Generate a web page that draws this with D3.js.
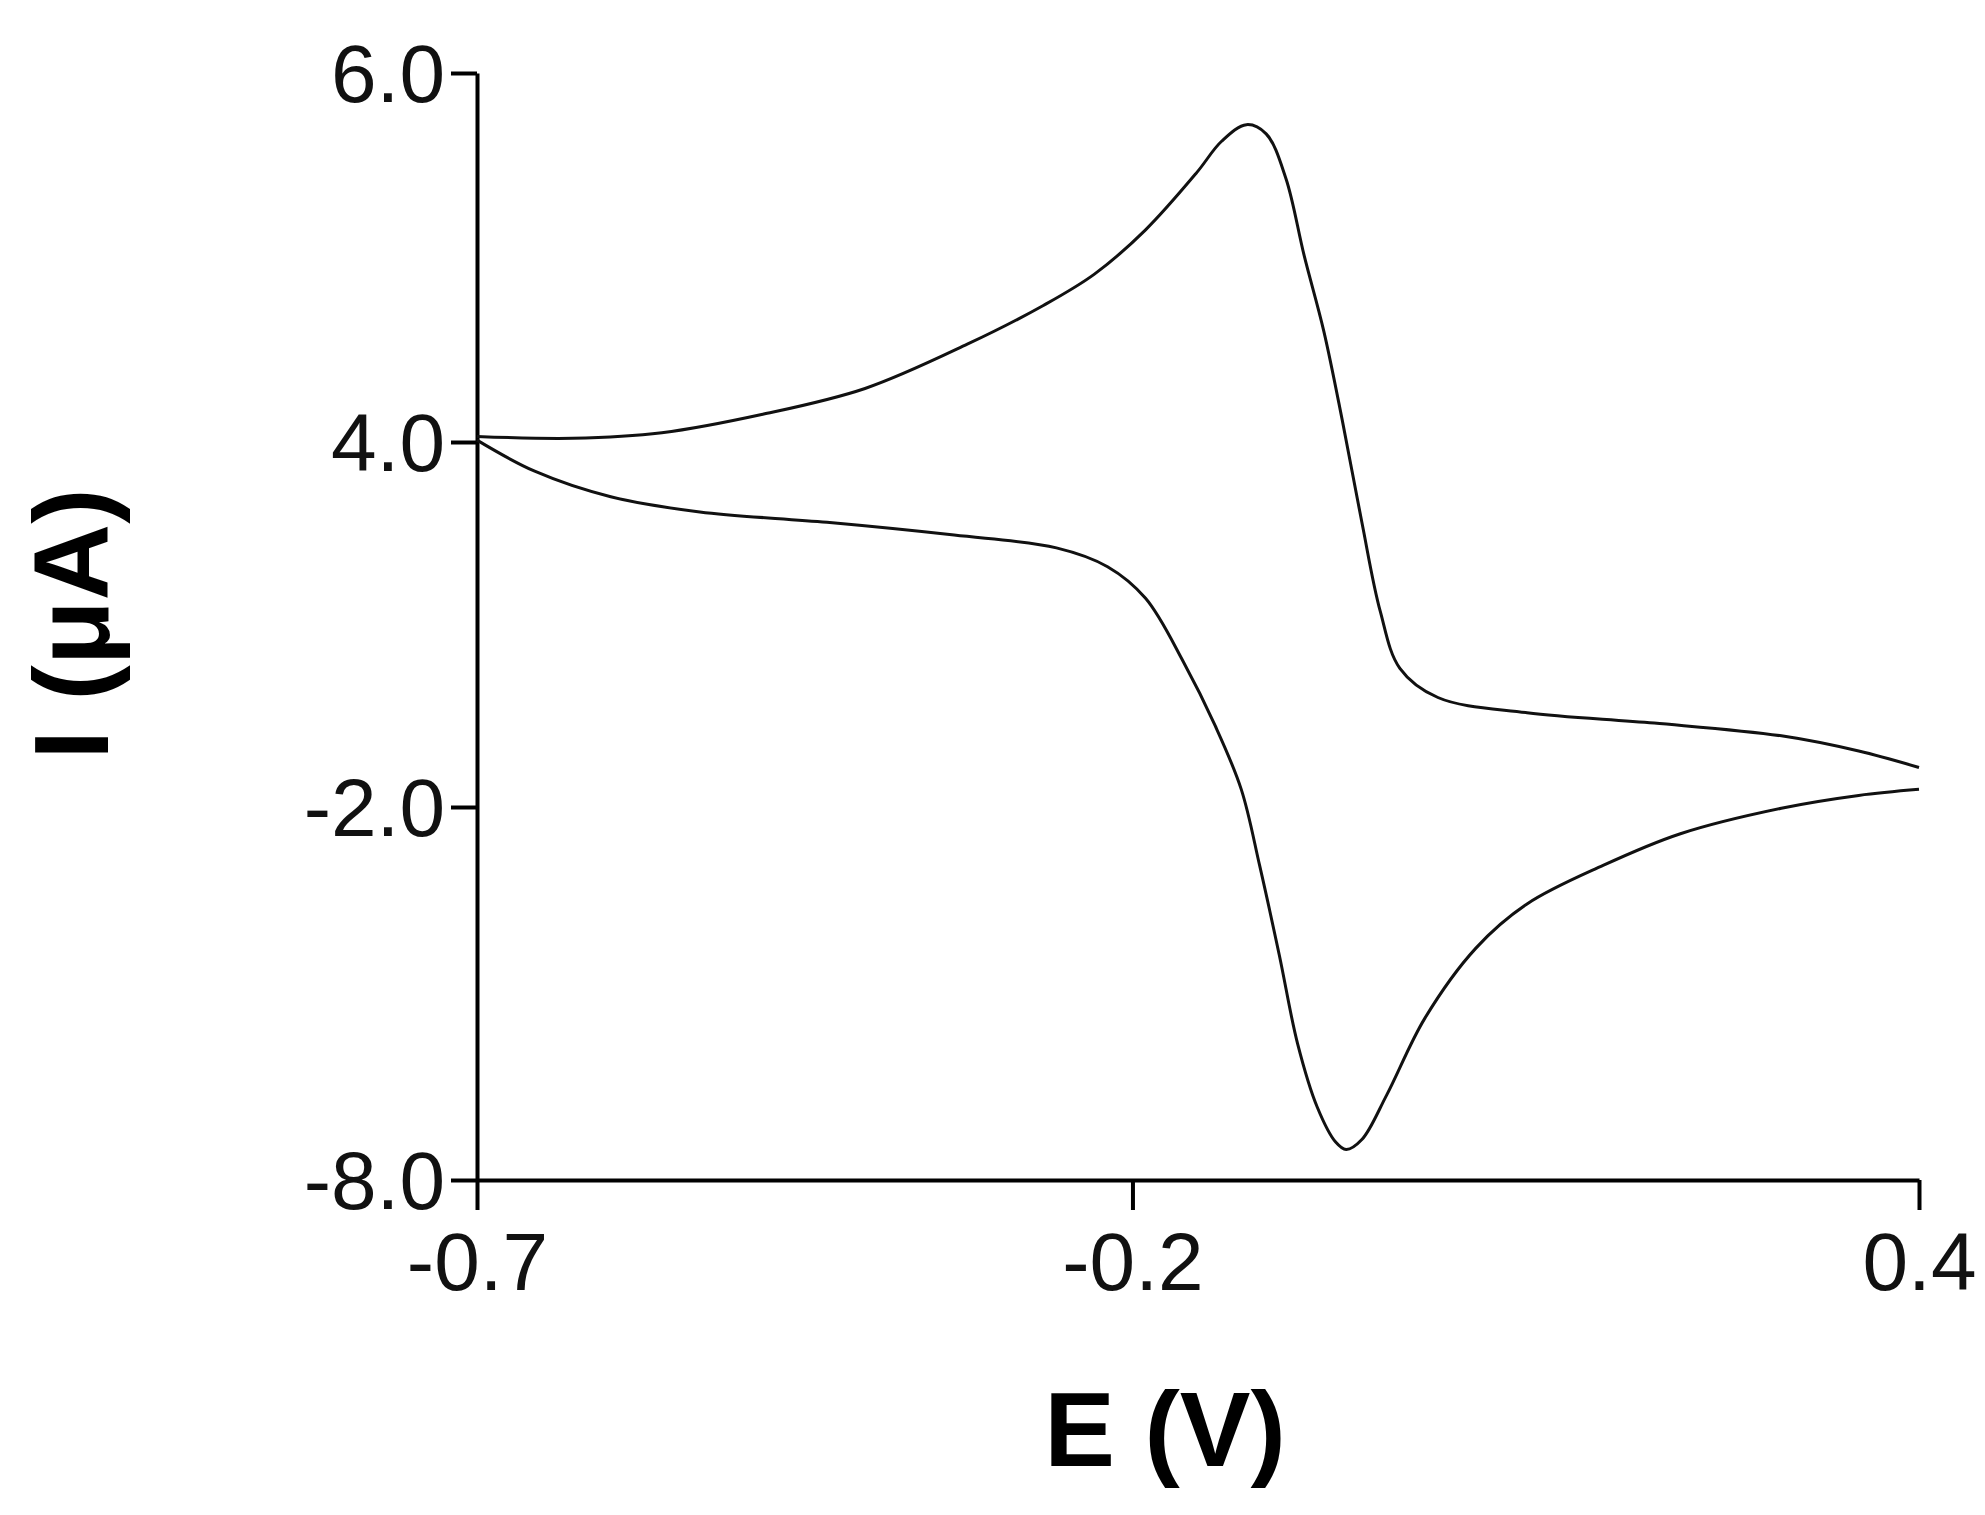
<!DOCTYPE html>
<html><head><meta charset="utf-8">
<script src="https://cdn.jsdelivr.net/npm/d3@7"></script>
<style>body{margin:0;background:#fff}</style></head>
<body><svg id="c" width="1985" height="1515"></svg>
<script>
const xTicks = [-0.7, -0.2, 0.4];
const xTickLabels = ["-0.7", "-0.2", "0.4"];
const yTicks = [-8, -2, 4, 6];
const yTickLabels = ["-8.0", "-2.0", "4.0", "6.0"];
const forwardE = [-0.700,-0.627,-0.559,-0.482,-0.404,-0.326,-0.268,-0.229,-0.190,-0.151,-0.132,-0.113,-0.098,-0.083,-0.069,-0.054,-0.040,-0.025,-0.011,0.004,0.033,0.101,0.198,0.295,0.354,0.400];
const forwardI = [4.03,4.02,4.05,4.15,4.29,4.53,4.74,4.91,5.15,5.46,5.63,5.72,5.67,5.43,5.01,4.60,4.12,2.68,1.22,0.28,-0.20,-0.45,-0.62,-0.83,-1.08,-1.35];
const reverseE = [-0.700,-0.656,-0.598,-0.530,-0.433,-0.336,-0.258,-0.219,-0.190,-0.161,-0.137,-0.117,-0.103,-0.088,-0.074,-0.059,-0.045,-0.037,-0.025,-0.006,0.023,0.062,0.101,0.159,0.218,0.295,0.354,0.400];
const reverseI = [4.01,3.52,3.10,2.85,2.68,2.47,2.26,1.95,1.43,0.38,-0.66,-1.71,-2.94,-4.38,-5.81,-6.83,-7.39,-7.51,-7.35,-6.63,-5.40,-4.27,-3.56,-2.94,-2.43,-2.02,-1.81,-1.71];

const svg = d3.select("#c");
const x = d3.scaleLinear().domain([-0.7, 0.4]).range([477, 1919]);
const y = d3.scaleLinear().domain(yTicks).range([1180, 807, 442, 73]);
const font = "'Liberation Sans', Arial, sans-serif";

const xa = svg.append("g").attr("transform","translate(0,1180)")
  .call(d3.axisBottom(x).tickValues(xTicks).tickFormat((d,i)=>xTickLabels[i]).tickSize(30).tickSizeOuter(0).tickPadding(22));
const ya = svg.append("g").attr("transform","translate(477,0)")
  .call(d3.axisLeft(y).tickValues(yTicks).tickFormat((d,i)=>yTickLabels[i]).tickSize(26).tickSizeOuter(0).tickPadding(6));
[xa, ya].forEach(a => {
  a.selectAll("path,line").attr("stroke","#000").attr("stroke-width",4);
  a.selectAll("text").attr("font-family",font).attr("font-size",82).attr("fill","#111");
});
ya.selectAll("text").attr("dy","0.35em");

const line = d3.line().x(d=>x(d[0])).y(d=>y(d[1])).curve(d3.curveCatmullRom.alpha(0.5));
[[forwardE, forwardI],[reverseE, reverseI]].forEach(([e, iv]) => {
  svg.append("path").datum(e.map((v,k)=>[v, iv[k]]))
    .attr("d", line).attr("fill","none").attr("stroke","#111").attr("stroke-width",3);
});

svg.append("text").attr("x",1165).attr("y",1466).attr("text-anchor","middle")
  .attr("font-family",font).attr("font-weight","bold").attr("font-size",106).text("E (V)");
svg.append("text").attr("transform","translate(108,624) rotate(-90)").attr("text-anchor","middle")
  .attr("font-family",font).attr("font-weight","bold").attr("font-size",106).text("I (μA)");
</script></body></html>
